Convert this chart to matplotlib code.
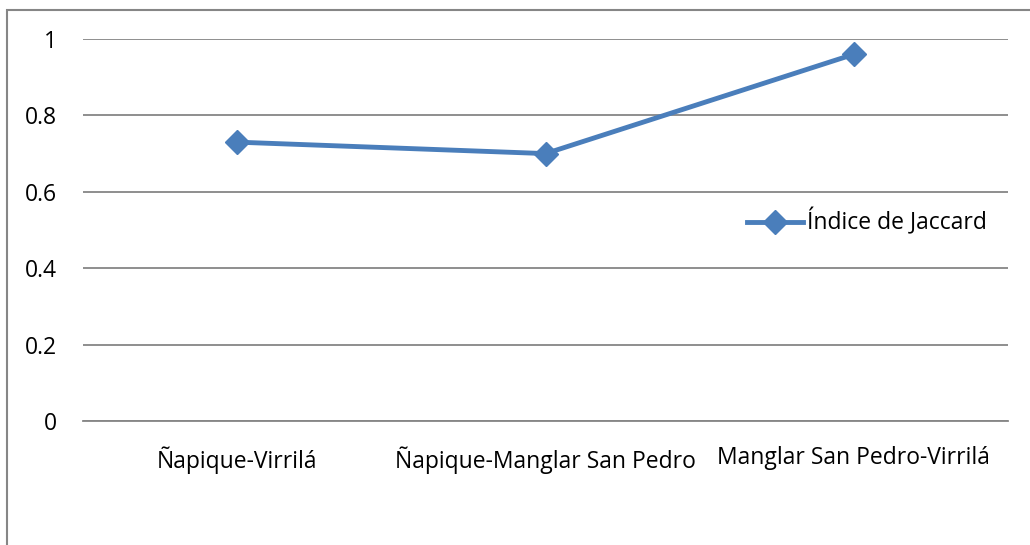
import matplotlib.pyplot as plt
from matplotlib.patches import Rectangle

categorias = ['Ñapique-Virrilá', 'Ñapique-Manglar San Pedro', 'Manglar San Pedro-Virrilá']
jaccard = [0.73, 0.70, 0.96]
yticks = [0, 0.2, 0.4, 0.6, 0.8, 1]
ytick_labels = ['0', '0.2', '0.4', '0.6', '0.8', '1']

plt.rcParams['font.family'] = ['Open Sans', 'DejaVu Sans']

fig = plt.figure(figsize=(10.3, 5.45), dpi=100)
ax = fig.add_axes([83/1030, 1 - 421/545, 925/1030, 382/545])

# chart border (cut off at right and bottom like the original)
fig.patches.append(Rectangle((7/1030, -0.1), 1.1, 1.1 - 10/545, transform=fig.transFigure,
                             fill=False, edgecolor='#868686', linewidth=1.5))

x = range(len(categorias))
ax.plot(x, jaccard, color='#4A7EBB', linewidth=3.5, marker='D', markersize=12,
        label='Índice de Jaccard')

ax.set_xlim(-0.5, 2.5)
ax.set_ylim(0, 1)
ax.set_yticks(yticks)
ax.set_yticklabels(ytick_labels)
ax.set_xticks(list(x))
ax.set_xticklabels(categorias)
ax.grid(axis='y', color='#868686', linewidth=1.3)
ax.set_axisbelow(True)
for s in ['top', 'right', 'left']:
    ax.spines[s].set_visible(False)
ax.spines['bottom'].set_color('#868686')
ax.spines['bottom'].set_linewidth(1.3)
ax.tick_params(axis='both', length=0, labelsize=16.5, colors='black')
ax.tick_params(axis='y', pad=19)
ax.tick_params(axis='x', pad=18)

ax.legend(loc='center left', bbox_to_anchor=(0.718, 0.521), frameon=False, fontsize=16.5,
          handlelength=2.45, handletextpad=0.15, borderpad=0, borderaxespad=0)

fig.savefig('out.png', dpi=100)
